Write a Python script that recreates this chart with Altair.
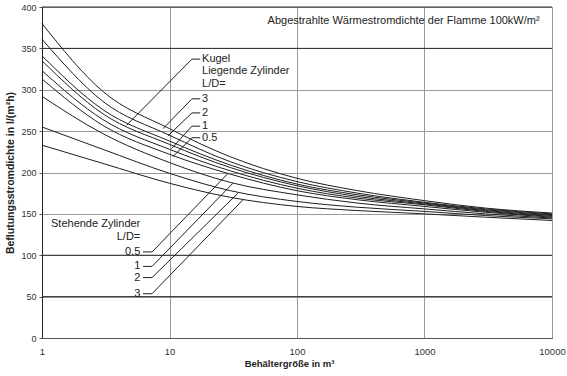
import altair as alt
import pandas as pd

# ---------------- data ----------------
x_points = [1, 3, 10, 30, 100, 300, 1000, 3000, 10000]

liegende_3 = [380, 298, 253, 219, 193, 178, 166, 157, 151]
liegende_2 = [361, 286, 245, 213, 189, 175, 164, 156, 150]
kugel = [341, 276, 238, 209, 186, 173, 163, 155, 149]
liegende_1 = [335, 271, 234, 206, 184, 171, 162, 154, 148]
liegende_05 = [323, 264, 228, 202, 181, 169, 161, 153, 147]
stehende_05 = [313, 257, 222, 198, 178, 167, 159, 152, 146]
stehende_1 = [292, 247, 212, 188, 173, 163, 156, 150, 145]
stehende_2 = [255, 228, 199, 178, 165, 158, 153, 148, 144]
stehende_3 = [233, 211, 187, 170, 159, 154, 150, 146, 142]

series = {
    "Liegende 3": liegende_3,
    "Liegende 2": liegende_2,
    "Kugel": kugel,
    "Liegende 1": liegende_1,
    "Liegende 0.5": liegende_05,
    "Stehende 0.5": stehende_05,
    "Stehende 1": stehende_1,
    "Stehende 2": stehende_2,
    "Stehende 3": stehende_3,
}

# upper label group (Kugel / liegende Zylinder)
upper_labels = ["Kugel", "3", "2", "1", "0.5"]
upper_label_y = [337, 289, 272, 256, 242]
upper_end_x = [4.6, 8.9, 9.7, 10.4, 10.6]
upper_end_y = [257, 253, 244, 229, 219]
upper_headers = ["Liegende Zylinder", "L/D="]
upper_header_y = [323, 307]

# lower label group (stehende Zylinder)
lower_labels = ["0.5", "1", "2", "3"]
lower_label_y = [104, 86.5, 73, 53.5]
lower_end_x = [28.8, 31.4, 34.4, 37.7]
lower_end_y = [199, 187, 175, 167]
lower_headers = ["Stehende Zylinder", "L/D="]
lower_header_y = [138, 122]

title_text = "Abgestrahlte Wärmestromdichte der Flamme 100kW/m²"
x_ticks = [1, 10, 100, 1000, 10000]
y_ticks = list(range(0, 401, 50))
dark_levels = [50, 100, 350, 400]

# ---------------- tables ----------------
rows = []
for name, vals in series.items():
    for i, (xv, yv) in enumerate(zip(x_points, vals)):
        rows.append({"series": name, "x": xv, "y": yv, "i": i})
curves = pd.DataFrame(rows)

seg = []
UP_DIAG_X, UP_DASH_X, UP_TEXT_X = 15.0, 17.4, 18.0
for t, ly, ex, ey in zip(upper_labels, upper_label_y, upper_end_x, upper_end_y):
    seg.append({"x": ex, "y": ey, "x2": UP_DIAG_X, "y2": ly})
    seg.append({"x": UP_DIAG_X, "y": ly, "x2": UP_DASH_X, "y2": ly})
LO_DASH_X, LO_DIAG_X, LO_TEXT_X = 6.2, 7.3, 5.9
for t, ly, ex, ey in zip(lower_labels, lower_label_y, lower_end_x, lower_end_y):
    seg.append({"x": ex, "y": ey, "x2": LO_DIAG_X, "y2": ly})
    seg.append({"x": LO_DASH_X, "y": ly, "x2": LO_DIAG_X, "y2": ly})
segments = pd.DataFrame(seg)

left_text = pd.DataFrame(
    {"x": [UP_TEXT_X] * (len(upper_labels) + len(upper_headers)),
     "y": upper_label_y + upper_header_y,
     "t": upper_labels + upper_headers}
)
right_text = pd.DataFrame(
    {"x": [LO_TEXT_X] * (len(lower_labels) + len(lower_headers)),
     "y": lower_label_y + lower_header_y,
     "t": lower_labels + lower_headers}
)
title_df = pd.DataFrame({"x": [8000], "y": [383], "t": [title_text]})
dark_df = pd.DataFrame({"y": dark_levels})

FONT = "Liberation Sans"

xscale = alt.Scale(type="log", domain=[1, 10000], nice=False)
yscale = alt.Scale(domain=[0, 400], nice=False)

xaxis = alt.Axis(
    values=x_ticks, format="d", title="Behältergröße in m³",
    grid=True, gridColor="#9a9a9a", gridWidth=1,
    ticks=False, labelPadding=8, labelFontSize=9.5, labelColor="#333",
    labelFont=FONT, titleFont=FONT, titleFontSize=9.5, titleFontWeight="bold",
    titleX=247, titleY=25, titleBaseline="middle", titleColor="#222",
    domainColor="#555", labelFlush=False,
)
yaxis = alt.Axis(
    values=y_ticks, title="Beflutungsstromdichte in l/(m²h)",
    grid=True, gridColor="#9a9a9a", gridWidth=1,
    ticks=True, tickSize=3, tickColor="#555", labelPadding=3,
    labelFontSize=9, labelColor="#333", labelFont=FONT,
    titleFont=FONT, titleFontSize=10.5, titleFontWeight="bold",
    titleX=-32, titleBaseline="middle", titleColor="#222",
    domainColor="#222",
)

lines = alt.Chart(curves).mark_line(
    color="#1e1e1e", strokeWidth=1, interpolate="monotone"
).encode(
    x=alt.X("x:Q", scale=xscale, axis=xaxis),
    y=alt.Y("y:Q", scale=yscale, axis=yaxis),
    detail="series:N",
    order="i:Q",
)

dark = alt.Chart(dark_df).mark_rule(color="#2a2a2a", strokeWidth=1).encode(
    y=alt.Y("y:Q", scale=yscale)
)

leaders = alt.Chart(segments).mark_rule(color="#1e1e1e", strokeWidth=1).encode(
    x=alt.X("x:Q", scale=xscale), y=alt.Y("y:Q", scale=yscale),
    x2="x2:Q", y2="y2:Q",
)

ltext = alt.Chart(left_text).mark_text(
    align="left", baseline="middle", font=FONT, fontSize=11, color="#222"
).encode(x=alt.X("x:Q", scale=xscale), y=alt.Y("y:Q", scale=yscale), text="t:N")

rtext = alt.Chart(right_text).mark_text(
    align="right", baseline="middle", font=FONT, fontSize=11, color="#222"
).encode(x=alt.X("x:Q", scale=xscale), y=alt.Y("y:Q", scale=yscale), text="t:N")

ttext = alt.Chart(title_df).mark_text(
    align="right", baseline="middle", font=FONT, fontSize=11, color="#222"
).encode(x=alt.X("x:Q", scale=xscale), y=alt.Y("y:Q", scale=yscale), text="t:N")

chart = alt.layer(dark, lines, leaders, ltext, rtext, ttext).properties(
    width=510, height=331,
    autosize=alt.AutoSizeParams(type="none"),
    padding={"left": 42, "top": 7, "right": 15, "bottom": 38},
    background="white",
).configure_view(stroke="#888", strokeWidth=1)

chart.save("out.html", embed_options={"renderer": "svg", "actions": False})
